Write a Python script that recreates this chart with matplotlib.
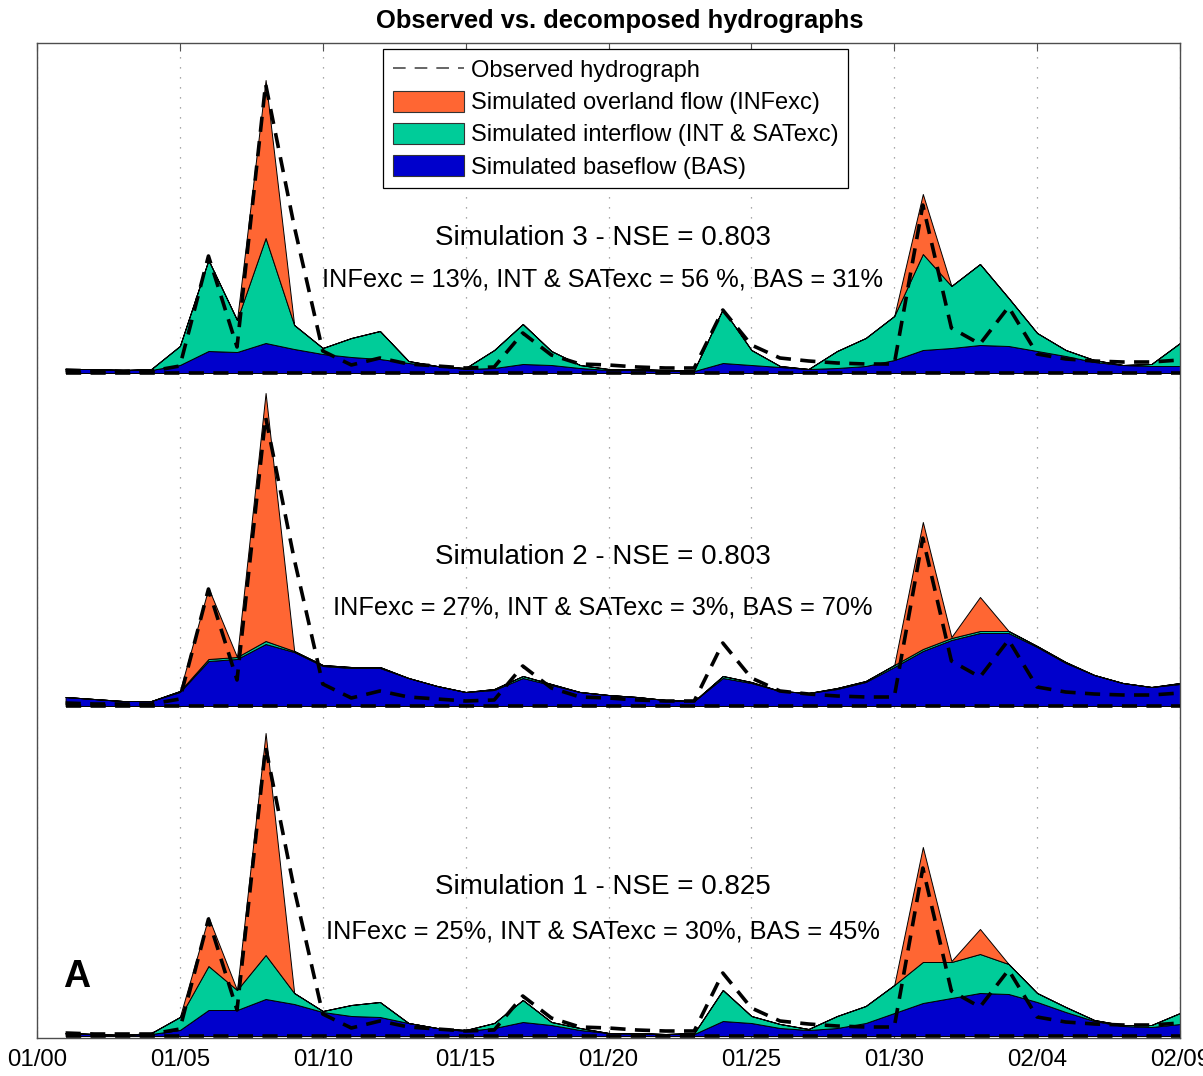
import numpy as np
import matplotlib
matplotlib.use("Agg")
import matplotlib.pyplot as plt
from matplotlib.patches import Patch
from matplotlib.lines import Line2D

plt.rcParams['font.family'] = ['Liberation Sans', 'DejaVu Sans']

# days since 01/00
days = np.arange(1, 41)

# observed hydrograph (same in every panel)
obs = [3, 2, 2, 2, 7, 117, 26, 289, 147, 22, 8, 15, 9, 7, 5, 6, 40, 18, 9, 8,
       6, 5, 5, 63, 28, 15, 12, 10, 9, 9, 168, 45, 29, 66, 19, 14, 12, 11, 11, 13]

# simulation 1
base1 = [3, 2, 1, 2, 6, 26, 26, 37, 32, 24, 20, 19, 13, 8, 5, 8, 14, 11, 6, 3,
         2, 2, 2, 15, 13, 8, 6, 8, 13, 23, 33, 38, 43, 42, 34, 24, 15, 10, 9, 12]
inter1 = [0, 0, 0, 1, 13, 44, 20, 44, 11, 1, 11, 15, 0, 0, 1, 5, 22, 3, 2, 0,
          1, 0, 1, 31, 7, 4, 1, 12, 17, 28, 41, 36, 39, 30, 9, 5, 1, 1, 2, 11]
over1 = [0, 0, 0, 0, 0, 49, 0, 222, 0, 0, 0, 0, 0, 0, 0, 0, 0, 0, 0, 0,
         0, 0, 0, 0, 0, 0, 0, 0, 0, 0, 115, 1, 25, 0, 0, 0, 0, 0, 0, 0]

# simulation 2
base2 = [9, 7, 5, 5, 14, 45, 47, 62, 54, 40, 38, 38, 28, 20, 14, 16, 28, 21, 14, 11,
         9, 6, 5, 28, 23, 15, 13, 17, 24, 39, 55, 66, 73, 73, 59, 43, 31, 23, 19, 22]
inter2 = [0, 0, 0, 0, 1, 2, 2, 3, 1, 1, 1, 1, 0, 0, 0, 1, 2, 1, 0, 0,
          0, 0, 0, 2, 1, 0, 0, 1, 1, 2, 2, 2, 2, 2, 1, 1, 0, 0, 0, 1]
over2 = [0, 0, 0, 0, 0, 71, 0, 248, 0, 0, 0, 0, 0, 0, 0, 0, 0, 0, 0, 0,
         0, 0, 0, 0, 0, 0, 0, 0, 0, 0, 127, 1, 34, 0, 0, 0, 0, 0, 0, 0]

# simulation 3
base3 = [4, 4, 3, 3, 8, 22, 21, 30, 24, 19, 16, 14, 10, 7, 4, 5, 9, 8, 5, 3,
         3, 2, 2, 10, 8, 6, 4, 5, 7, 13, 23, 25, 28, 27, 22, 17, 11, 8, 7, 7]
inter3 = [0, 0, 0, 1, 19, 91, 32, 105, 24, 6, 19, 28, 2, 0, 1, 18, 40, 14, 3, 1,
          1, 1, 1, 54, 15, 1, 0, 17, 28, 44, 96, 62, 81, 48, 18, 6, 2, 0, 2, 23]
over3 = [0, 0, 0, 0, 0, 0, 0, 158, 0, 0, 0, 0, 0, 0, 0, 0, 0, 0, 0, 0,
         0, 0, 0, 0, 0, 0, 0, 0, 0, 0, 60, 0, 0, 0, 0, 0, 0, 0, 0, 0]

sim_names = ['Simulation 1 - NSE = 0.825', 'Simulation 2 - NSE = 0.803', 'Simulation 3 - NSE = 0.803']
sim_stats = ['INFexc = 25%, INT & SATexc = 30%, BAS = 45%',
             'INFexc = 27%, INT & SATexc = 3%, BAS = 70%',
             'INFexc = 13%, INT & SATexc = 56 %, BAS = 31%']

tick_days = [0, 5, 10, 15, 20, 25, 30, 35, 40]
tick_labels = ['01/00', '01/05', '01/10', '01/15', '01/20', '01/25', '01/30', '02/04', '02/09']

c_over = '#FF6633'
c_inter = '#00CC99'
c_base = '#0000CC'

offsets = [0, 330, 663]
name_y = [149, 479, 798]
stat_y = [105, 429, 756]

fig = plt.figure(figsize=(12.03, 10.76), dpi=100)
ax = fig.add_axes([37 / 1203, 38 / 1076, 1143 / 1203, 995 / 1076])

sims = [(base1, inter1, over1), (base2, inter2, over2), (base3, inter3, over3)]
for i, (b, it, ov) in enumerate(sims):
    off = offsets[i]
    b = np.array(b)
    g = b + np.array(it)
    o = g + np.array(ov)
    ax.fill_between(days, off, off + b, facecolor=c_base, edgecolor='k', lw=0.7, zorder=2)
    ax.fill_between(days, off + b, off + g, facecolor=c_inter, edgecolor='k', lw=0.7, zorder=2)
    ax.fill_between(days, off + g, off + o, facecolor=c_over, edgecolor='k', lw=0.7, zorder=2)
    ax.plot(days, off + np.array(obs), color='k', lw=2.6, dashes=(4.2, 2.6), zorder=3)
    ax.plot([days[0], days[-1]], [off, off], color='k', lw=2.6, dashes=(4.2, 2.6), zorder=3)
    ax.text(19.8, name_y[i], sim_names[i], ha='center', va='center', fontsize=20)
    ax.text(19.8, stat_y[i], sim_stats[i], ha='center', va='center', fontsize=18.3)

ax.text(1.4, 59, 'A', ha='center', va='center', fontsize=27, fontweight='bold')

ax.set_xlim(0, 40)
ax.set_ylim(-2, 993)
ax.set_xticks(tick_days)
ax.set_xticklabels(tick_labels, fontsize=17.3)
ax.set_yticks([])
ax.tick_params(axis='x', direction='in', length=6, width=0.8, top=True, pad=8, color='0.3')
ax.xaxis.grid(True, color='0.55', lw=0.9, linestyle=(0, (1, 7)))
ax.set_axisbelow(True)
for s in ax.spines.values():
    s.set_color('0.3')
    s.set_linewidth(1.0)

ax.set_title('Observed vs. decomposed hydrographs', fontsize=18.4, fontweight='bold', x=0.51, pad=11)

handles = [Line2D([0], [0], color='0.35', lw=1.3, dashes=(7, 5)),
           Patch(facecolor=c_over, edgecolor='0.2', lw=0.8),
           Patch(facecolor=c_inter, edgecolor='0.2', lw=0.8),
           Patch(facecolor=c_base, edgecolor='0.2', lw=0.8)]
labels = ['Observed hydrograph', 'Simulated overland flow (INFexc)',
          'Simulated interflow (INT & SATexc)', 'Simulated baseflow (BAS)']
leg = ax.legend(handles, labels, loc='upper left', bbox_to_anchor=(0.303, 0.994),
                fontsize=17, handlelength=3.0, handleheight=1.0, labelspacing=0.36,
                handletextpad=0.33, borderpad=0.4, borderaxespad=0, fancybox=False,
                framealpha=1, edgecolor='k')
leg.get_frame().set_linewidth(0.9)

fig.savefig('out.png', dpi=100)
